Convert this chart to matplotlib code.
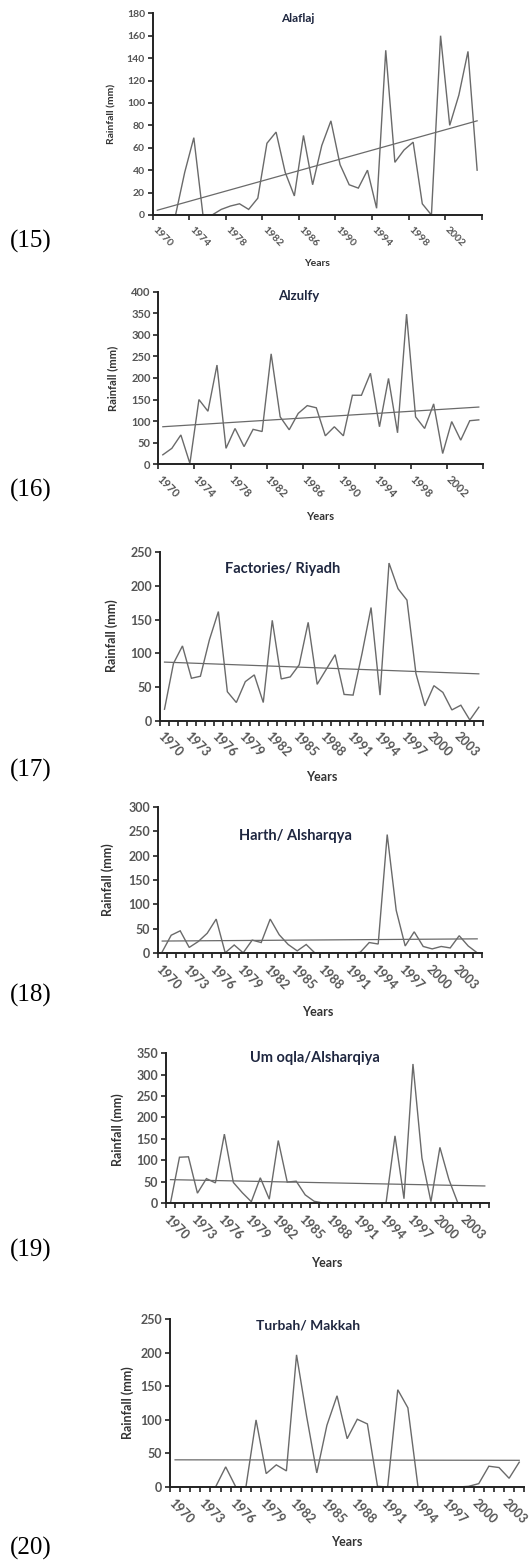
"""
Annual rainfall series with linear trend for six Saudi stations, 1970-2005.
Figure panels (15)-(20), stacked vertically.
"""

import numpy as np
import matplotlib
matplotlib.use("Agg")
import matplotlib.pyplot as plt

W, H = 532, 1566
DPI = 100

plt.rcParams["font.family"] = ["Lato", "DejaVu Sans"]

# --- data (mm) ---
years_36 = list(range(1970, 2006))
years_35 = list(range(1970, 2005))

alaflaj = [0, 0, 0, 38, 69, 0, 0, 5, 8, 10, 5, 15, 64, 74, 38, 17, 71, 27,
           62, 84, 45, 27, 24, 40, 6, 147, 47, 58, 65, 10, 0, 160, 80, 107, 146, 40]
alzulfy = [22, 37, 68, 2, 150, 123, 230, 37, 83, 41, 81, 76, 256, 110, 80, 118, 136, 131,
           66, 87, 66, 160, 160, 211, 87, 199, 73, 348, 110, 83, 140, 25, 99, 56, 101, 103]
factories = [17, 85, 111, 63, 66, 120, 162, 43, 27, 58, 68, 27, 149, 62, 65, 83, 146, 54,
             76, 98, 39, 38, 100, 168, 38, 234, 196, 179, 70, 22, 52, 42, 16, 23, 1, 20]
harth = [3, 37, 46, 12, 24, 41, 70, 1, 17, 1, 27, 22, 70, 38, 18, 5, 18, 0,
         0, 0, 0, 0, 2, 22, 19, 243, 88, 15, 44, 14, 9, 14, 11, 36, 15, 1]
umoqla = [0, 107, 108, 23, 57, 47, 161, 48, 24, 3, 59, 9, 146, 49, 51, 19, 4, 0,
          0, 0, 0, 0, 0, 0, 0, 157, 10, 325, 105, 3, 130, 55, 0, 0, 0, 0]
turbah = [0, 0, 0, 0, 0, 30, 0, 0, 100, 20, 33, 24, 197, 105, 21, 92, 136, 72,
          101, 94, 1, 0, 145, 118, 0, 0, 0, 0, 0, 1, 5, 31, 29, 13, 37]

titles = ["Alaflaj", "Alzulfy", "Factories/ Riyadh", "Harth/ Alsharqya",
          "Um oqla/Alsharqiya", "Turbah/ Makkah"]
numbers = ["(15)", "(16)", "(17)", "(18)", "(19)", "(20)"]
series = [(years_36, alaflaj), (years_36, alzulfy), (years_36, factories),
          (years_36, harth), (years_36, umoqla), (years_35, turbah)]
ymax = [180, 400, 250, 300, 350, 250]
ystep = [20, 50, 50, 50, 50, 50]
label_every = [4, 4, 3, 3, 3, 3]

# --- layout in pixels: axes box (left, right, top, bottom) ---
boxes = [(152.7, 481.7, 13.3, 215.0),
         (158.3, 483.3, 291.7, 464.3),
         (160.0, 483.3, 552.3, 720.7),
         (157.7, 481.7, 806.7, 953.3),
         (166.0, 489.3, 1053.3, 1203.0),
         (170.0, 524.3, 1319.3, 1487.0)]
title_xy = [(298, 18), (299, 296), (283, 569), (295, 836), (315, 1058), (308, 1325)]
ylabel_xy = [(112, 114), (113, 378), (112, 636), (108, 880), (118, 1130), (128, 1403)]
xlabel_xy = [(317, 263), (320, 517), (322, 777), (318, 1012), (327, 1263), (347, 1542)]
number_y = [241, 490, 770, 995, 1250, 1548]
fs = [7.5, 8, 9, 9, 9, 9]          # tick / axis-label size per panel
title_fs = [8.5, 9.5, 10.5, 10.5, 10.5, 10]

LINE = "#6a6a6a"
TICK = "#555555"
DARK = "#333333"
NAVY = "#1f2740"


def fx(px):
    return px / W


def fy(py):
    return 1 - py / H


fig = plt.figure(figsize=(W / DPI, H / DPI), dpi=DPI)

for k in range(6):
    yrs, vals = series[k]
    l, r, t, b = boxes[k]
    ax = fig.add_axes([fx(l), fy(b), fx(r - l), (b - t) / H])
    n = len(yrs)
    x = np.arange(n)
    vals = np.array(vals, dtype=float)

    ax.plot(x, vals, color=LINE, lw=1.0, solid_joinstyle="miter")
    # linear trend, as Excel adds it
    slope, icpt = np.polyfit(x, vals, 1)
    ax.plot(x, slope * x + icpt, color=LINE, lw=0.9)

    ax.set_xlim(-0.5, n - 0.5)
    ax.set_ylim(0, ymax[k])
    for s in ["top", "right"]:
        ax.spines[s].set_visible(False)
    for s in ["left", "bottom"]:
        ax.spines[s].set_color("#222222")
        ax.spines[s].set_linewidth(1.4)

    # category axis: tick marks between categories, labels on centres
    step = label_every[k]
    ax.set_xticks(np.arange(-0.5, n, step if step == 4 else 1))
    ax.set_xticklabels([])
    lab_idx = np.arange(0, n, step)
    if step == 4:
        lab_idx = lab_idx[lab_idx <= 32]
    ax.set_xticks(lab_idx, minor=True)
    ax.set_xticklabels([str(yrs[i]) for i in lab_idx], minor=True,
                       rotation=-45, ha="left", rotation_mode="anchor",
                       fontsize=fs[k], color=TICK, fontweight="bold")
    ax.tick_params(axis="x", which="major", direction="out", length=3.5,
                   width=1.2, color="#222222")
    ax.tick_params(axis="x", which="minor", length=0, pad=7)

    ax.set_yticks(np.arange(0, ymax[k] + 1, ystep[k]))
    ax.tick_params(axis="y", direction="out", length=3.5, width=1.2,
                   color="#222222", labelsize=fs[k], labelcolor=TICK, pad=2)
    for lab in ax.get_yticklabels():
        lab.set_fontweight("bold")

    tx, ty = title_xy[k]
    fig.text(fx(tx), fy(ty), titles[k], ha="center", va="center",
             fontsize=title_fs[k], fontweight="bold", color=NAVY)
    lx, ly = ylabel_xy[k]
    fig.text(fx(lx), fy(ly), "Rainfall (mm)", ha="center", va="center",
             rotation=90, fontsize=fs[k], fontweight="bold", color=DARK)
    xx, xy = xlabel_xy[k]
    fig.text(fx(xx), fy(xy), "Years", ha="center", va="center",
             fontsize=fs[k], fontweight="bold", color=DARK)
    fig.text(fx(10), fy(number_y[k]), numbers[k], ha="left", va="center",
             fontsize=18, family=["Liberation Serif", "DejaVu Serif"], color="black")

fig.savefig("out.png", dpi=DPI, facecolor="white")
